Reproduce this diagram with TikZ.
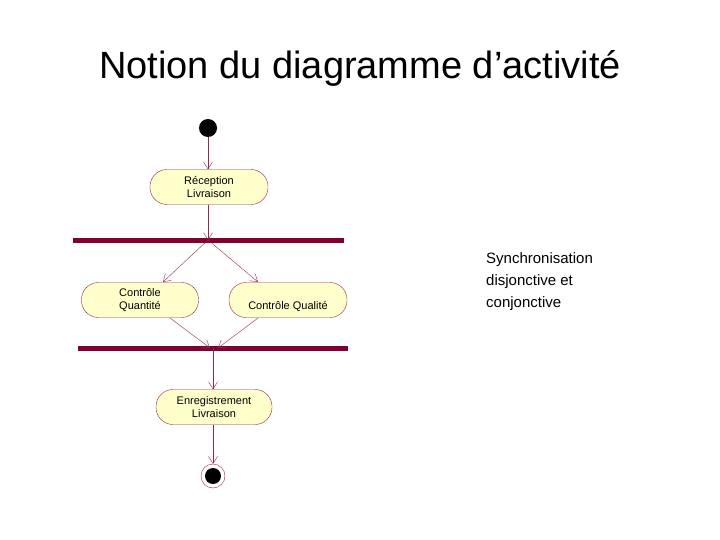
\documentclass[tikz,border=0pt]{standalone}
\usepackage{fontspec}
\setmainfont{Liberation Sans}
\usetikzlibrary{arrows.meta}
\definecolor{lin}{RGB}{150,40,80}
\definecolor{barc}{RGB}{128,0,50}
\definecolor{fillc}{RGB}{255,255,204}
\tikzset{
  act/.style={draw=lin,fill=fillc,rounded corners=17pt,minimum height=35pt,align=center,font=\fontsize{11}{13}\selectfont,inner sep=2pt},
  flow/.style={draw=lin,-{Straight Barb[length=7pt,width=9pt]}},
  bar/.style={draw=barc,line width=5pt}
}
\begin{document}
\begin{tikzpicture}[x=1pt,y=-1pt]
\useasboundingbox (0,0) rectangle (720,540);
\node[font=\fontsize{38}{44}\selectfont] (title) at (360,68) {Notion du diagramme d’activité};
\node[anchor=north west,align=left,font=\fontsize{15}{22}\selectfont,inner sep=0pt] (side) at (486,252) {Synchronisation\\disjonctive et\\conjonctive};
\node[circle,fill=black,minimum size=18pt,inner sep=0pt] (start) at (208,128) {};
\node[act,minimum width=118pt] (rec) at (209,187) {Réception\\Livraison};
\coordinate (b1l) at (73,240); \coordinate (b1r) at (344,240); \coordinate (b1) at (208,240);
\draw[bar] (b1l) -- (b1r);
\node[act,minimum width=117pt] (cqt) at (140,300) {Contrôle\\Quantité};
\node[act,minimum width=118pt,text height=22pt] (cql) at (288,300) {Contrôle Qualité};
\coordinate (b2l) at (78,348); \coordinate (b2r) at (348,348);
\draw[bar] (b2l) -- (b2r);
\coordinate (j1) at (210,348); \coordinate (j2) at (218,348); \coordinate (b2) at (213,348);
\node[act,minimum width=116pt] (enr) at (214,407) {Enregistrement\\Livraison};
\node[circle,draw=lin,fill=white,minimum size=24pt,inner sep=0pt] (end) at (213,476) {};
\node[circle,fill=black,minimum size=16pt,inner sep=0pt] (endin) at (213,476) {};
\draw[flow] (start) -- (rec.north -| start);
\draw[flow] (rec.south -| start) -- (b1);
\draw[flow] (b1) -- (163,282);
\draw[flow] (b1) -- (258,282);
\draw[flow] (170,318) -- (j1);
\draw[flow] (258,318) -- (j2);
\draw[flow] (b2) -- (enr.north -| b2);
\draw[flow] (enr.south -| b2) -- (end.north);
\end{tikzpicture}
\end{document}
